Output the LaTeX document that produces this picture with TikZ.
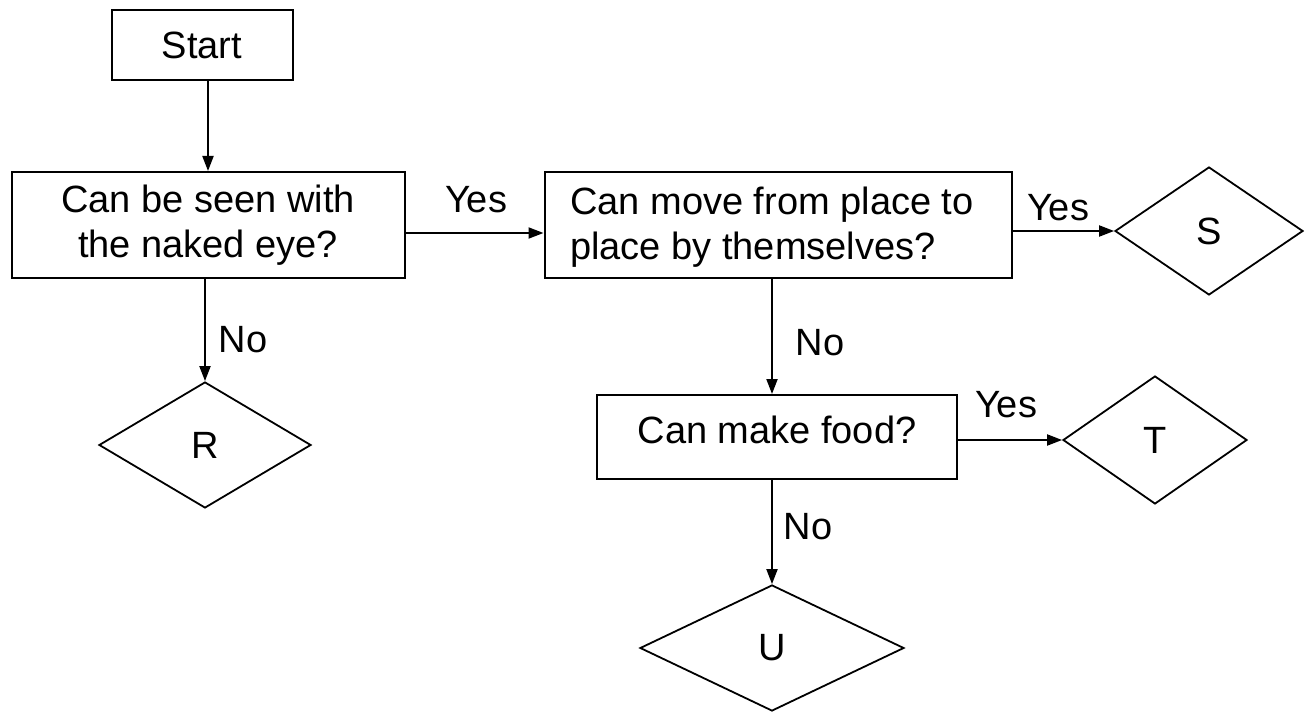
\documentclass[tikz,border=0pt]{standalone}
\usepackage{fontspec}
\setmainfont{Liberation Sans}
\usetikzlibrary{shapes.geometric,arrows.meta}
\begin{document}
\begin{tikzpicture}[x=1pt,y=-1pt,
  every node/.style={font=\fontsize{38}{45}\selectfont},
  boxnode/.style={draw,line width=2pt,inner sep=0pt},
  dia/.style={draw,diamond,line width=1.8pt,inner sep=0pt},
  arr/.style={line width=2pt,-{Triangle[length=15pt,width=11pt]}},
  lbl/.style={inner sep=0pt}]
\useasboundingbox (0,0) rectangle (1310,714);
\node[boxnode,minimum width=181pt,minimum height=70pt] (start) at (202,45) {Start};
\node[boxnode,minimum width=393pt,minimum height=106pt,align=center] (b1) at (208,225) {Can be seen with\\the naked eye?};
\node[boxnode,minimum width=467pt,minimum height=106pt] (b2) at (778,225) {};
\node[lbl,align=left,anchor=west] (b2t) at (570,227) {Can move from place to\\place by themselves?};
\node[boxnode,minimum width=360pt,minimum height=84pt] (b3) at (777,437) {};
\node[lbl] (b3t) at (777,430) {Can make food?};
\node[dia,minimum width=188pt,minimum height=128pt] (S) at (1209,231) {S};
\node[dia,minimum width=212pt,minimum height=126pt] (R) at (205,445) {R};
\node[dia,minimum width=184pt,minimum height=128pt] (T) at (1155,440) {T};
\node[dia,minimum width=264pt,minimum height=126pt] (U) at (772,648) {U};
\draw[arr] (start.south -| 208,0) -- (b1.north -| 208,0);
\draw[arr] ([yshift=-8pt]b1.east) -- ([yshift=-8pt]b2.west);
\draw[arr] (b2.east |- S.west) -- (S.west);
\draw[arr] (R.north |- b1.south) -- (R.north);
\draw[arr] (b2.south -| U.north) -- (b3.north -| U.north);
\draw[arr] (b3.east |- T.west) -- (T.west);
\draw[arr] (b3.south -| U.north) -- (U.north);
\node[lbl] (y1) at (476,200) {Yes};
\node[lbl] (y2) at (1058,208) {Yes};
\node[lbl] (y3) at (1006,405) {Yes};
\node[lbl] (n1) at (243,340) {No};
\node[lbl] (n2) at (820,343) {No};
\node[lbl] (n3) at (808,527) {No};
\end{tikzpicture}
\end{document}
